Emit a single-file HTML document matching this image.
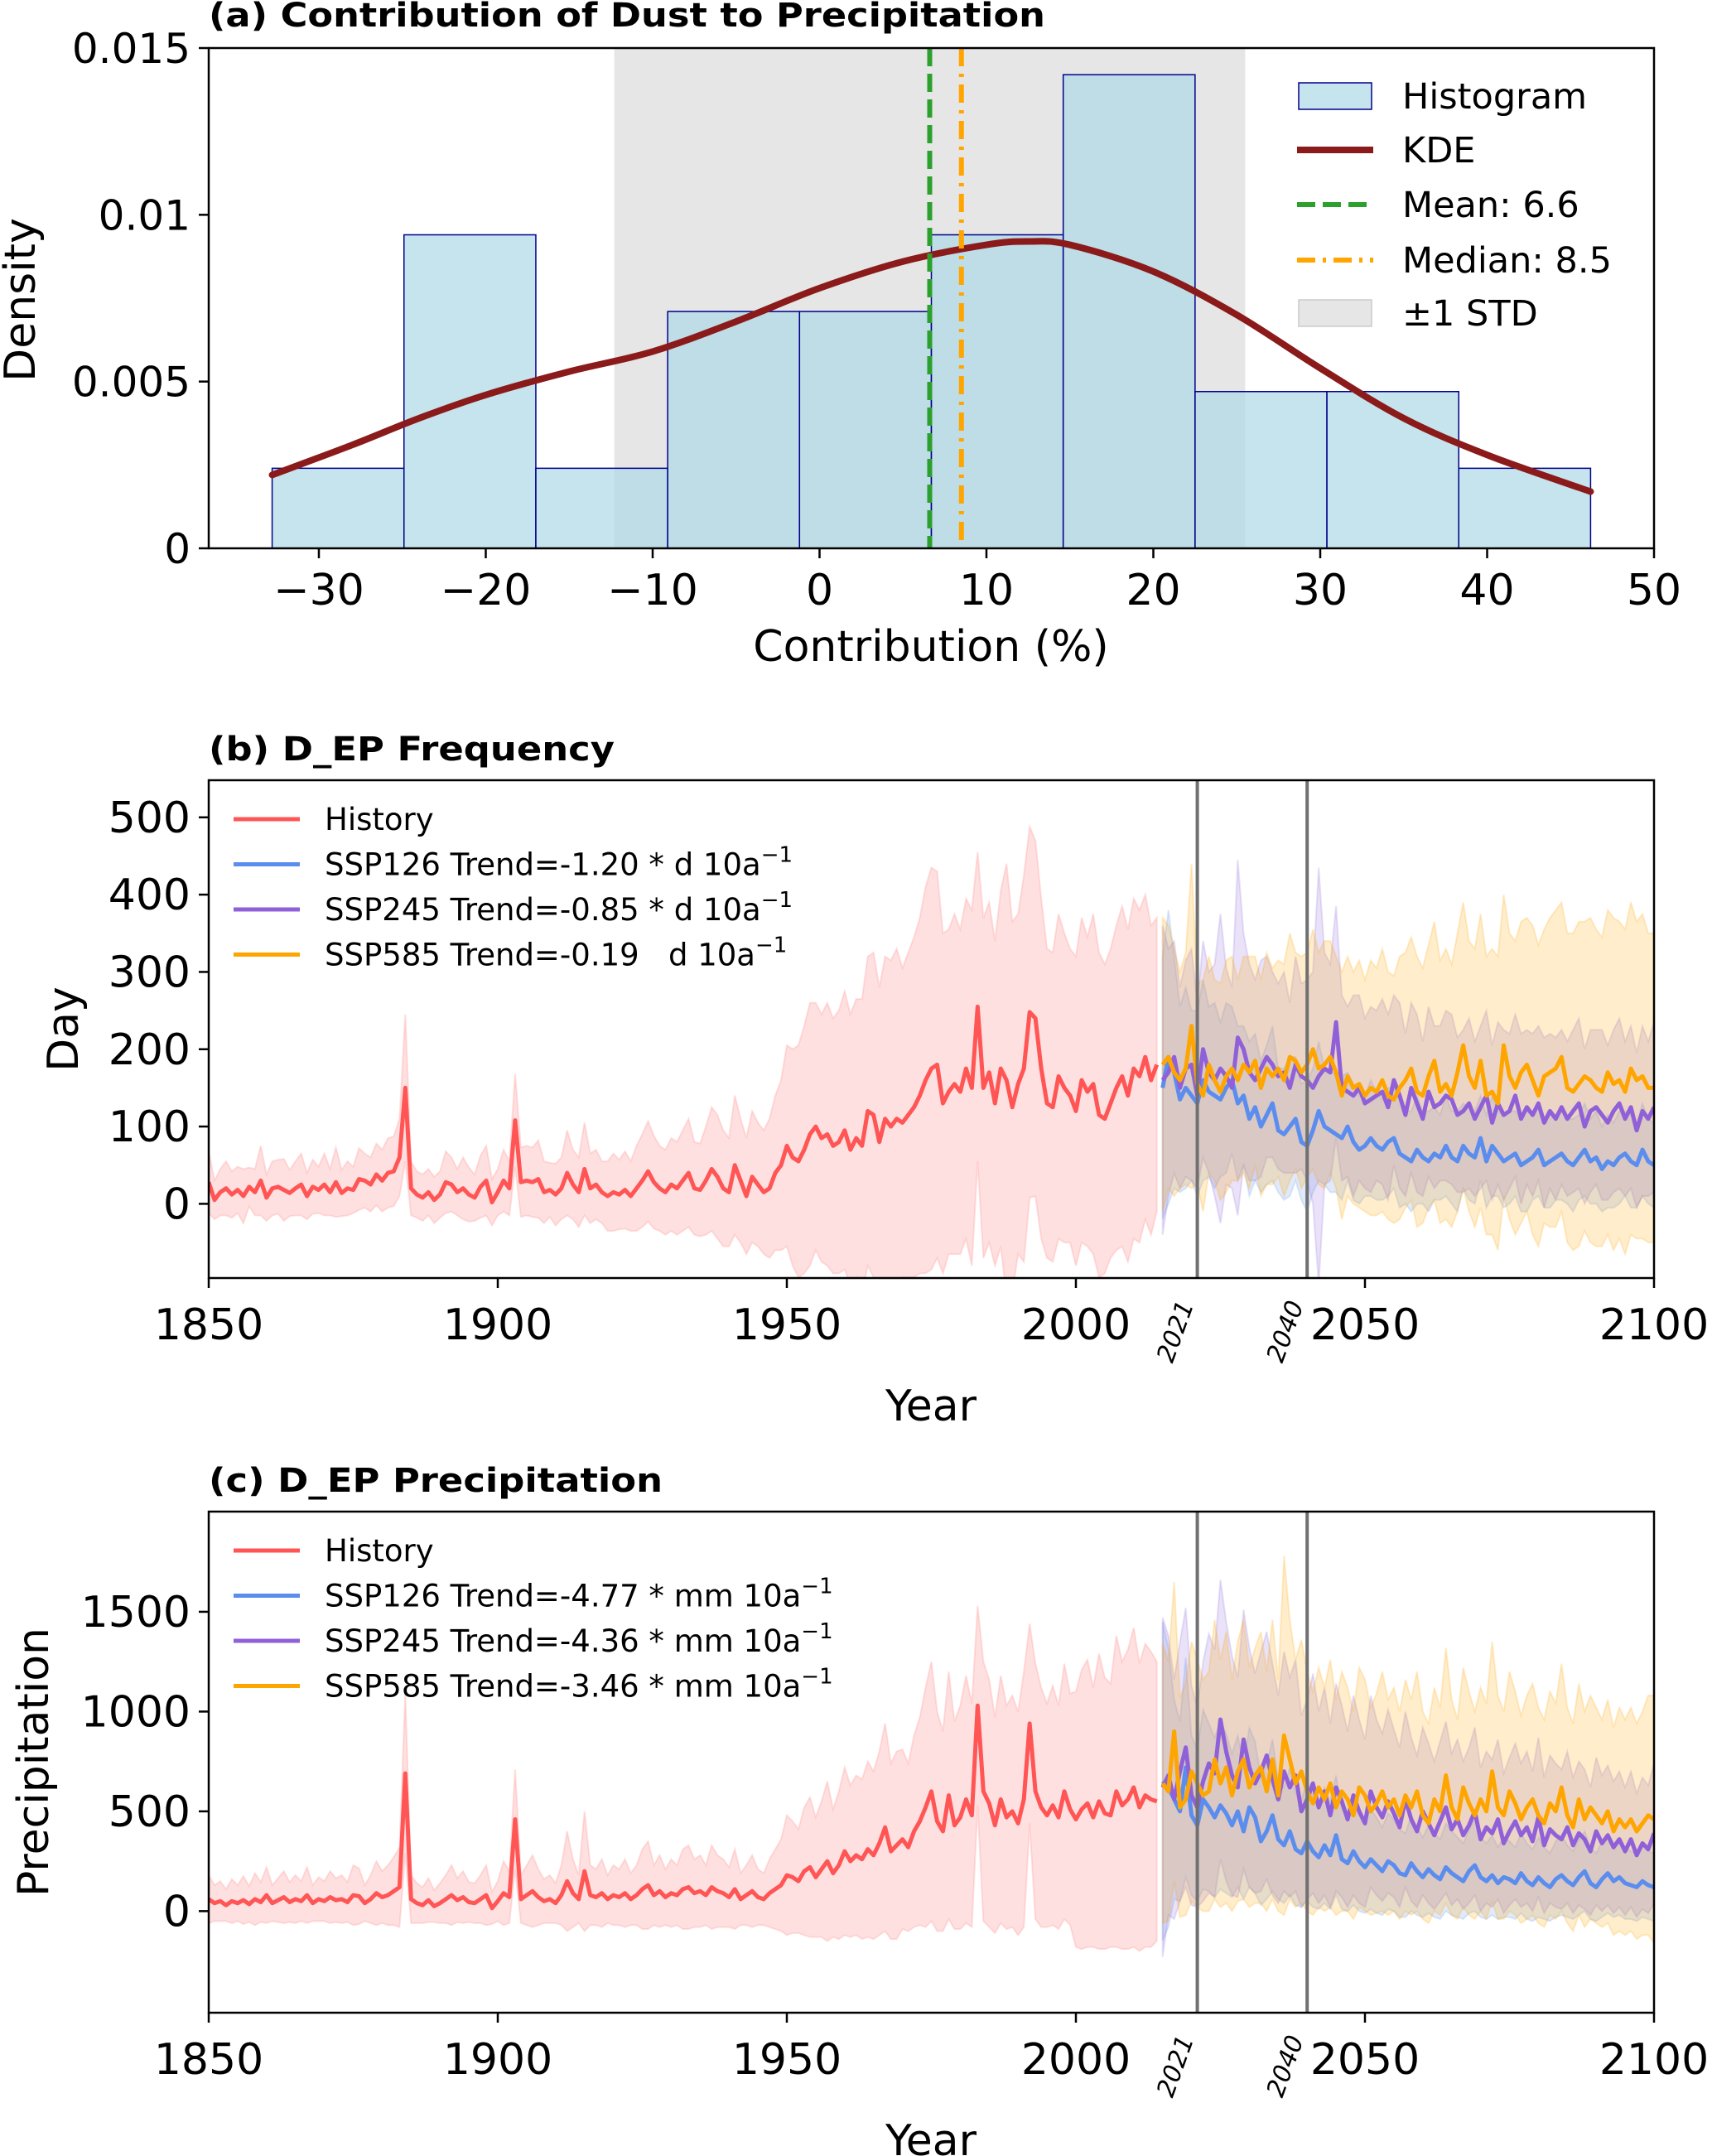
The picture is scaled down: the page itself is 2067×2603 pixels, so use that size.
<!DOCTYPE html>
<html><head><meta charset="utf-8">
<style>
html,body{margin:0;padding:0;background:#fff;}
svg{display:block;font-family:"DejaVu Sans","Liberation Sans",sans-serif;}
</style></head>
<body>
<svg id="fig" width="2067" height="2603" viewBox="0 0 2067 2603" xmlns="http://www.w3.org/2000/svg"></svg>
<script>
// ---------- Panel (a) data ----------
const binEdges = [-32.8,-24.9,-17.0,-9.1,-1.2,6.7,14.6,22.5,30.4,38.3,46.2];
const binHeights = [0.0024,0.0094,0.0024,0.0071,0.0071,0.0094,0.0142,0.0047,0.0047,0.0024];
const kdeX = [-32.8,-28,-24,-20,-15,-10,-5,0,5,10,12.5,15,20,25,30,35,40,46.2];
const kdeY = [0.0022,0.0031,0.0039,0.0046,0.0053,0.0059,0.0068,0.0078,0.0086,0.0091,0.0092,0.0091,0.0083,0.0070,0.0054,0.0039,0.0028,0.0017];
const meanVal = 6.6;
const medianVal = 8.5;
const stdRange = [-12.3, 25.5];
const aXTicks = [-30,-20,-10,0,10,20,30,40,50];
const aYTicks = [0,0.005,0.01,0.015];
const aYTickLabels = ["0","0.005","0.01","0.015"];

// ---------- Panel (b) data ----------
const histStart = 1850;
const sspStart = 2015;
const bHist = [28,5,15,20,12,18,10,22,15,30, 8,20,22,18,14,20,25,10,22,18, 25,15,28,14,20,18,32,30,25,38, 30,40,42,60,150,20,12,8,15,5, 12,28,25,15,20,12,8,22,30,2, 15,30,20,108,28,30,28,32,15,18, 12,20,40,25,15,45,20,25,15,10, 15,12,18,10,20,30,42,28,20,15, 25,20,30,40,20,18,30,45,35,20, 15,50,30,10,35,25,15,20,40,50, 75,60,55,70,90,100,85,90,75,80, 95,70,85,75,120,115,80,110,100,110, 105,115,125,140,160,175,180,130,145,155, 145,175,150,255,150,170,130,175,160,125, 155,175,248,240,175,130,125,165,150,140, 120,160,145,155,115,110,130,150,165,140, 175,165,190,160,180];
const bHistSd = [40,25,30,35,30,30,35,25,30,45, 30,35,35,40,30,35,40,30,35,30, 40,30,45,30,35,30,40,35,35,40, 40,45,45,50,95,35,30,30,30,30, 30,40,35,30,40,35,30,40,45,30, 30,40,35,60,45,45,45,50,40,35, 40,40,55,45,45,60,45,45,40,45, 50,45,50,45,55,60,65,60,55,55, 60,60,65,70,60,60,70,80,80,75, 70,90,80,75,85,80,80,90,100,110, 130,140,150,160,170,160,160,170,165,170, 180,175,180,190,200,210,200,210,215,220, 200,210,220,230,250,260,250,220,210,220, 210,220,230,200,220,220,210,230,280,240, 220,250,240,230,220,200,200,210,200,190, 200,210,200,220,210,200,200,210,220,215, 220,215,210,200,190];
const b126 = [150,190,170,135,150,140,130,160,145,140, 135,150,160,130,140,110,125,100,115,130, 95,90,100,110,80,75,95,120,100,95, 90,85,100,80,70,75,85,75,70,80, 85,65,60,55,70,60,55,65,60,75, 60,55,75,65,60,85,55,75,65,55, 60,65,50,55,60,70,50,55,60,65, 55,50,60,70,55,60,45,55,50,60, 65,55,50,70,55,50];
const b245 = [160,170,190,150,175,180,140,200,170,160, 175,165,150,215,200,170,160,175,190,180, 165,170,150,180,165,160,150,165,175,170, 235,150,145,140,150,130,135,140,145,125, 160,140,115,150,130,110,145,125,130,140, 135,115,120,130,110,125,140,105,130,115, 120,140,110,125,115,130,105,120,110,125, 110,120,130,100,120,125,115,105,120,130, 110,125,95,120,110,125];
const b585 = [180,190,170,160,175,230,155,140,180,160, 145,165,175,160,180,170,185,150,175,165, 175,160,190,185,170,180,200,175,180,190, 170,140,165,150,155,140,150,145,160,140, 135,150,160,175,145,140,165,185,145,155, 140,170,205,165,150,185,140,145,130,205, 165,150,170,180,160,140,165,170,175,190, 150,145,155,165,160,150,145,170,155,160, 145,175,160,165,150,150];
const b126Sd = [170,190,150,120,130,110,120,130,110,120, 100,110,95,100,90,100,95,85,90,100, 80,85,90,80,75,85,80,90,75,80, 75,80,70,75,70,65,75,70,65,70, 65,70,60,65,70,60,65,60,55,65, 60,65,55,60,60,55,60,65,55,60, 60,55,60,65,55,60,55,60,55,60, 55,60,55,60,55,60,55,60,55,60, 55,60,55,60,55,55];
const b245Sd = [200,160,150,130,140,150,120,140,130,150, 200,140,130,230,150,140,130,140,130,120, 120,130,110,140,120,130,150,270,150,140, 150,120,110,130,120,110,120,110,120,120, 110,120,105,110,115,100,110,105,100,110, 110,100,105,110,100,105,110,100,105,110, 100,105,110,100,105,100,110,100,105,100, 100,105,110,100,105,100,110,100,105,110, 100,105,100,110,100,110];
const b585Sd = [190,170,160,140,150,210,130,150,140,130, 140,150,145,130,140,150,135,140,150,140, 140,150,160,140,150,145,155,150,160,150, 150,160,155,150,160,150,165,160,170,160, 160,170,165,170,175,165,170,180,170,175, 170,180,185,175,180,190,180,185,190,195, 185,190,195,190,200,195,190,200,205,200, 200,205,210,200,210,205,200,210,215,205, 210,215,205,210,200,200];
const bYTicks = [0,100,200,300,400,500];

// ---------- Panel (c) data ----------
const cHist = [60,40,50,30,50,40,55,35,60,45, 80,40,55,70,45,60,50,80,40,60, 50,70,55,60,45,80,75,40,60,90, 70,80,100,120,690,60,40,30,55,25, 40,60,80,55,70,45,40,60,80,15, 50,90,70,460,60,80,100,70,50,60, 40,80,150,90,60,200,80,70,90,60, 80,70,90,60,80,110,130,80,100,70, 90,80,110,120,90,100,80,120,100,90, 70,110,60,80,100,70,60,90,110,130, 180,170,150,200,220,170,210,250,190,230, 300,250,280,260,310,280,340,420,300,330, 360,320,400,450,520,600,450,400,580,430, 470,560,480,1030,600,540,430,560,470,500, 440,560,940,600,520,480,530,470,600,510, 460,510,540,470,550,490,480,600,530,560, 620,520,580,560,550];
const cHistSd = [120,90,100,80,110,90,120,90,130,100, 140,90,110,130,100,120,100,140,90,110, 100,130,110,120,100,150,140,90,120,160, 130,150,170,200,400,120,100,90,110,80, 100,120,150,110,130,100,100,120,150,80, 100,160,130,250,120,150,180,140,110,120, 100,150,250,170,120,300,150,140,170,120, 150,140,170,130,150,200,220,150,180,140, 170,150,200,210,170,180,150,210,180,170, 150,200,130,150,180,140,130,170,200,230, 300,280,260,320,350,300,340,400,320,370, 420,380,400,400,440,420,460,520,440,470, 450,420,480,520,600,650,550,500,620,520, 560,620,560,500,650,620,540,620,560,580, 560,640,500,640,600,560,600,560,640,580, 640,700,720,650,740,680,660,780,720,750, 800,720,760,740,700];
const c126 = [650,620,560,500,720,480,430,560,520,470, 530,490,430,500,400,520,470,350,400,480, 360,330,400,310,290,350,300,270,330,280, 380,260,240,300,250,220,260,230,200,250, 230,190,180,240,200,170,210,180,160,220, 190,170,150,200,230,170,150,180,140,170, 160,140,190,150,130,170,140,120,160,180, 150,130,170,200,140,120,160,190,150,170, 140,130,120,150,130,120];
const c245 = [620,680,560,700,820,580,520,650,740,690, 960,800,680,620,860,720,640,700,780,660, 560,700,620,680,500,560,640,520,600,480, 620,550,460,580,500,440,600,520,470,550, 490,420,560,460,400,500,440,380,450,520, 410,460,380,430,500,360,420,390,460,340, 400,450,380,420,350,470,330,410,380,360, 420,330,390,360,300,400,340,380,320,360, 300,360,280,340,310,390];
const c585 = [640,600,900,520,560,700,640,580,600,760, 640,720,580,700,760,620,680,720,600,760, 580,880,760,640,700,600,540,620,560,640, 520,600,560,480,620,580,500,540,600,520, 560,480,580,520,600,480,440,560,500,680, 520,460,620,540,480,560,500,700,520,480, 600,540,460,520,560,480,440,540,500,620, 480,420,560,460,520,480,440,500,400,460, 420,460,400,440,480,460];
const c126Sd = [800,700,500,450,550,400,380,450,420,400, 420,400,360,380,340,400,380,320,340,380, 300,290,320,280,270,300,280,260,290,270, 300,250,240,270,250,230,250,240,220,240, 230,220,210,240,220,200,220,210,200,220, 210,200,190,210,230,200,190,200,180,200, 190,180,200,190,180,200,180,170,190,200, 180,170,190,200,180,170,190,200,180,190, 180,170,170,180,170,170];
const c245Sd = [850,700,600,650,700,550,500,600,650,620, 700,650,600,550,650,600,550,600,620,580, 520,600,550,580,480,500,550,480,520,460, 520,480,440,500,460,420,480,440,420,460, 420,400,440,410,380,420,400,370,400,430, 380,400,370,390,420,360,380,370,400,350, 370,390,360,380,350,400,340,370,360,350, 380,340,360,350,320,370,340,350,330,340, 320,340,310,330,320,350];
const c585Sd = [700,650,750,550,580,650,620,580,600,700, 620,680,580,650,700,600,640,680,600,700, 580,900,700,620,660,600,560,600,560,620, 540,600,560,520,600,580,520,550,600,540, 560,520,580,540,600,520,500,560,520,640, 540,500,600,560,520,560,540,650,560,520, 600,560,520,560,580,540,520,560,540,620, 540,520,580,540,560,540,520,560,520,560, 540,560,540,560,600,620];
const cYTicks = [0,500,1000,1500];
const yearTicks = [1850,1900,1950,2000,2050,2100];
const markerYears = [2021,2040];

const NS = "http://www.w3.org/2000/svg";
const svg = document.getElementById("fig");
function el(tag, attrs, parent){
  const e = document.createElementNS(NS, tag);
  for (const k in attrs) e.setAttribute(k, attrs[k]);
  (parent||svg).appendChild(e);
  return e;
}
function txt(str, attrs, parent){ const t = el("text", attrs, parent); t.textContent = str; return t; }

// ======================= PANEL A =======================
const A = {l:252, r:1997, t:58, b:662, xmin:-36.6, xmax:50, ymin:0, ymax:0.015};
const ax = v => A.l + (v - A.xmin)/(A.xmax - A.xmin)*(A.r - A.l);
const ay = v => A.b - (v - A.ymin)/(A.ymax - A.ymin)*(A.b - A.t);
const gA = el("g", {});



const std = el("rect", {x:ax(stdRange[0]), y:A.t, width:ax(stdRange[1])-ax(stdRange[0]), height:A.b-A.t, fill:"#808080", "fill-opacity":0.2}, gA);



for (let i=0;i<binHeights.length;i++){
  const r = el("rect", {x:ax(binEdges[i]), y:ay(binHeights[i]), width:ax(binEdges[i+1])-ax(binEdges[i]), height:A.b-ay(binHeights[i]), fill:"#add8e6", "fill-opacity":0.7, stroke:"#00008b", "stroke-width":1.5}, gA);
  
  
}

(function(){
  const P = kdeX.map((x,i)=>[ax(x), ay(kdeY[i])]);
  let d = "M"+P[0][0]+","+P[0][1];
  for (let i=0;i<P.length-1;i++){
    const p0=P[Math.max(0,i-1)], p1=P[i], p2=P[i+1], p3=P[Math.min(P.length-1,i+2)];
    const c1=[p1[0]+(p2[0]-p0[0])/6, p1[1]+(p2[1]-p0[1])/6];
    const c2=[p2[0]-(p3[0]-p1[0])/6, p2[1]-(p3[1]-p1[1])/6];
    d += " C"+c1+" "+c2+" "+p2;
  }
  const k = el("path", {d:d, fill:"none", stroke:"#8b1a1a", "stroke-width":8, "stroke-linecap":"round"}, gA);
  
  
})();

const mline = el("line", {x1:ax(meanVal), x2:ax(meanVal), y1:A.t, y2:A.b, stroke:"#2ca02c", "stroke-width":6, "stroke-dasharray":"22,9"}, gA);


const mdline = el("line", {x1:ax(medianVal), x2:ax(medianVal), y1:A.t, y2:A.b, stroke:"#ffa500", "stroke-width":6, "stroke-dasharray":"22,9,4,9"}, gA);



const frA = el("rect", {x:A.l, y:A.t, width:A.r-A.l, height:A.b-A.t, fill:"none", stroke:"#000", "stroke-width":2.5}, gA);



aXTicks.forEach(v=>{
  el("line",{x1:ax(v),x2:ax(v),y1:A.b,y2:A.b+12,stroke:"#000","stroke-width":2.5},gA);
  const t = txt(String(v).replace("-","\u2212"), {x:ax(v), y:730, "font-size":52, "text-anchor":"middle"}, gA);
  
  
});
aYTicks.forEach((v,i)=>{
  el("line",{x1:A.l-12,x2:A.l,y1:ay(v),y2:ay(v),stroke:"#000","stroke-width":2.5},gA);
  const t = txt(aYTickLabels[i], {x:230, y:ay(v)+18, "font-size":50, "text-anchor":"end"}, gA);
  
  
});
const tA = txt("(a) Contribution of Dust to Precipitation", {x:252, y:32, "font-size":40, "font-weight":"bold", textLength:1010, lengthAdjust:"spacingAndGlyphs"}, gA);


const xlA = txt("Contribution (%)", {x:1124, y:798, "font-size":52, "text-anchor":"middle"}, gA);


const ylA = txt("Density", {x:0, y:0, "font-size":52, "text-anchor":"middle", transform:"translate(42,362) rotate(-90)"}, gA);



const legA = el("g", {}, gA);


const lrows = [116,181,247,314,378];
el("rect",{x:1568,y:lrows[0]-16,width:88,height:32,fill:"#add8e6","fill-opacity":0.7,stroke:"#00008b","stroke-width":1.5},legA);
el("line",{x1:1566,x2:1658,y1:lrows[1],y2:lrows[1],stroke:"#8b1a1a","stroke-width":8},legA);
el("line",{x1:1566,x2:1658,y1:lrows[2],y2:lrows[2],stroke:"#2ca02c","stroke-width":6,"stroke-dasharray":"22,9"},legA);
el("line",{x1:1566,x2:1658,y1:lrows[3],y2:lrows[3],stroke:"#ffa500","stroke-width":6,"stroke-dasharray":"22,9,4,9"},legA);
el("rect",{x:1568,y:lrows[4]-16,width:88,height:32,fill:"#808080","fill-opacity":0.2,stroke:"#cccccc","stroke-width":1.5},legA);
["Histogram","KDE","Mean: 6.6","Median: 8.5","\u00b11 STD"].forEach((s,i)=>{
  const t = txt(s,{x:1693,y:lrows[i]+15,"font-size":43},legA);
  
  
});

// ======================= TIME SERIES PANELS =======================
const YX = {l:252, r:1997, y0:1850, y1:2100};
const tx = yr => YX.l + (yr - YX.y0)/(YX.y1 - YX.y0)*(YX.r - YX.l);

function band(g, mean, sd, start, yfun, color, op, name){
  let up = "", lo = "";
  for (let i=0;i<mean.length;i++){ up += (i?"L":"M")+tx(start+i)+","+yfun(mean[i]+sd[i]); }
  for (let i=mean.length-1;i>=0;i--){ lo += "L"+tx(start+i)+","+yfun(mean[i]-sd[i]); }
  const p = el("path",{d:up+lo+"Z", fill:color, "fill-opacity":op, stroke:color, "stroke-opacity":op, "stroke-width":2}, g);
  
  
}
function series(g, mean, start, yfun, color, name){
  let d = "";
  for (let i=0;i<mean.length;i++){ d += (i?"L":"M")+tx(start+i)+","+yfun(mean[i]); }
  const p = el("path",{d:d, fill:"none", stroke:color, "stroke-width":5, "stroke-linejoin":"round"}, g);
  
  
}

function panel(cfg){
  const g = el("g",{});
  
  
  const cid = cfg.name+"-clip";
  const cp = el("clipPath",{id:cid},g);
  el("rect",{x:YX.l,y:cfg.t,width:YX.r-YX.l,height:cfg.b-cfg.t},cp);
  const yf = v => cfg.b - (v - cfg.ymin)/(cfg.ymax - cfg.ymin)*(cfg.b - cfg.t);
  const inner = el("g",{"clip-path":"url(#"+cid+")"},g);
  band(inner, cfg.hist, cfg.histSd, histStart, yf, "#ff9999", 0.3, "history-band");
  band(inner, cfg.s126, cfg.s126Sd, sspStart, yf, "#6495ed", 0.2, "ssp126-band");
  band(inner, cfg.s245, cfg.s245Sd, sspStart, yf, "#9370db", 0.2, "ssp245-band");
  band(inner, cfg.s585, cfg.s585Sd, sspStart, yf, "#ffa500", 0.2, "ssp585-band");
  series(inner, cfg.hist, histStart, yf, "#ff5555", "history-line");
  series(inner, cfg.s126, sspStart, yf, "#5b8def", "ssp126-line");
  series(inner, cfg.s245, sspStart, yf, "#9060d8", "ssp245-line");
  series(inner, cfg.s585, sspStart, yf, "#ffa500", "ssp585-line");
  markerYears.forEach(yr=>{
    const l = el("line",{x1:tx(yr),x2:tx(yr),y1:cfg.t,y2:cfg.b,stroke:"#707070","stroke-width":4},g);
    
    
    const t = txt(String(yr),{x:0,y:0,"font-size":30,"font-style":"italic","text-anchor":"end",transform:"translate("+(tx(yr)-4)+","+(cfg.b+32)+") rotate(-70)"},g);
    
    
  });
  const fr = el("rect",{x:YX.l,y:cfg.t,width:YX.r-YX.l,height:cfg.b-cfg.t,fill:"none",stroke:"#000","stroke-width":2.5},g);
  
  
  yearTicks.forEach(v=>{
    el("line",{x1:tx(v),x2:tx(v),y1:cfg.b,y2:cfg.b+12,stroke:"#000","stroke-width":2.5},g);
    const t = txt(String(v),{x:tx(v),y:cfg.b+74,"font-size":52,"text-anchor":"middle"},g);
    
    
  });
  cfg.yticks.forEach(v=>{
    el("line",{x1:YX.l-12,x2:YX.l,y1:yf(v),y2:yf(v),stroke:"#000","stroke-width":2.5},g);
    const t = txt(String(v),{x:230,y:yf(v)+18,"font-size":52,"text-anchor":"end"},g);
    
    
  });
  const ti = txt(cfg.title,{x:252,y:cfg.t-24,"font-size":40,"font-weight":"bold",textLength:cfg.titleW,lengthAdjust:"spacingAndGlyphs"},g);
  
  
  const xl = txt("Year",{x:1124,y:cfg.b+172,"font-size":52,"text-anchor":"middle"},g);
  
  
  const yl = txt(cfg.ylabel,{x:0,y:0,"font-size":52,"text-anchor":"middle",transform:"translate("+cfg.ylx+","+((cfg.t+cfg.b)/2)+") rotate(-90)"},g);
  
  
  const lg = el("g",{},g);
  
  
  const cols = ["#ff5555","#5b8def","#9060d8","#ffa500"];
  cfg.legend.forEach((s,i)=>{
    const y = cfg.t + 47 + i*cfg.lstep;
    el("line",{x1:282,x2:362,y1:y,y2:y,stroke:cols[i],"stroke-width":5},lg);
    const t = txt("",{x:392,y:y+13,"font-size":37,"xml:space":"preserve"},lg);
    
    
    const a = document.createElementNS(NS,"tspan"); a.textContent = s; t.appendChild(a);
    if (i>0){ const sp = document.createElementNS(NS,"tspan"); sp.setAttribute("dy","-16"); sp.setAttribute("font-size","26"); sp.textContent="\u22121"; t.appendChild(sp); }
  });
}

panel({name:"panel-b", t:942, b:1543, ymin:-96, ymax:548, yticks:bYTicks,
  hist:bHist, histSd:bHistSd, s126:b126, s126Sd:b126Sd, s245:b245, s245Sd:b245Sd, s585:b585, s585Sd:b585Sd,
  title:"(b) D_EP Frequency", titleW:490, ylabel:"Day", ylx:94, lstep:54.5,
  legend:["History","SSP126 Trend=-1.20 * d 10a","SSP245 Trend=-0.85 * d 10a","SSP585 Trend=-0.19\u00a0\u00a0\u00a0d 10a"]});

panel({name:"panel-c", t:1825, b:2430, ymin:-509, ymax:2002, yticks:cYTicks,
  hist:cHist, histSd:cHistSd, s126:c126, s126Sd:c126Sd, s245:c245, s245Sd:c245Sd, s585:c585, s585Sd:c585Sd,
  title:"(c) D_EP Precipitation", titleW:548, ylabel:"Precipitation", ylx:58, lstep:54.5,
  legend:["History","SSP126 Trend=-4.77 * mm 10a","SSP245 Trend=-4.36 * mm 10a","SSP585 Trend=-3.46 * mm 10a"]});
</script>
</body></html>
